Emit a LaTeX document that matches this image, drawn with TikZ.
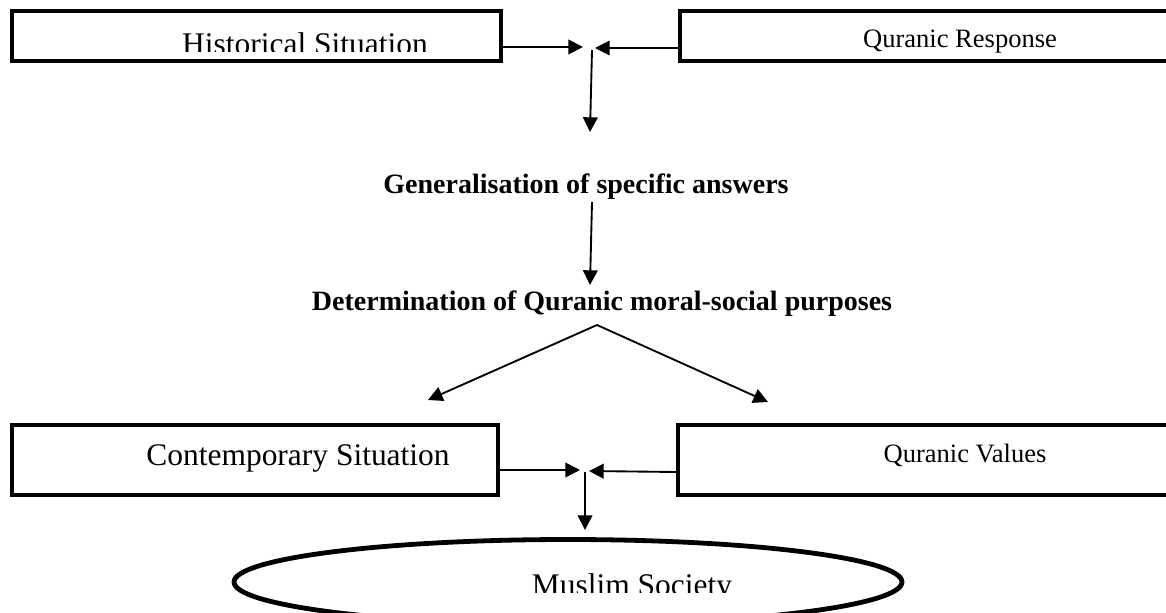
\documentclass[tikz,border=0pt]{standalone}
\usepackage{fontspec}
\setmainfont{Liberation Serif}
\usetikzlibrary{arrows.meta,shapes.geometric}
\begin{document}
\begin{tikzpicture}[x=0.75pt,y=-0.75pt,
  box/.style={draw, line width=3pt, inner sep=0pt},
  oval/.style={draw, ellipse, line width=3.6pt, inner sep=0pt},
  arr/.style={-{Triangle[length=11pt,width=11pt]}, line width=1.4pt},
  big/.style={font=\fontsize{23.6pt}{28pt}\selectfont, inner sep=0pt, anchor=base},
  mid/.style={font=\fontsize{19.9pt}{24pt}\selectfont, inner sep=0pt, anchor=base},
  heading/.style={font=\fontsize{21pt}{25pt}\selectfont\bfseries, inner sep=0pt, anchor=base}]
\useasboundingbox (0,0) rectangle (1166,613);

% boxes
\node[box, minimum width=366.75pt, minimum height=37.5pt] (hist) at (256.5,36) {};
\node[box, minimum width=375pt, minimum height=37.5pt] (resp) at (930,36) {};
\node[box, minimum width=364.5pt, minimum height=52.5pt] (cont) at (255,460) {};
\node[box, minimum width=376.5pt, minimum height=52.5pt] (vals) at (929,460) {};
\node[oval, minimum width=501pt, minimum height=63.75pt] (soc) at (568,582) {};

% texts
\begin{scope}
  \clip (14,13) rectangle (499,52);
  \node[big] (histtxt) at (305,55) {Historical Situation};
\end{scope}
\node[mid] (resptxt) at (960,48) {Quranic Response};
\node[heading] (gen) at (586,193) {Generalisation of specific answers};
\node[heading] (det) at (602,310) {Determination of Quranic moral-social purposes};
\node[big] (conttxt) at (298,465) {Contemporary Situation};
\node[mid] (valstxt) at (965,462) {Quranic Values};
\begin{scope}
  \clip (236,541) rectangle (902,592);
  \node[big] (soctxt) at (632,595) {Muslim Society};
\end{scope}

% junction points
\coordinate (h1) at (0,47);
\coordinate (j1a) at (583,47);
\coordinate (r1) at (0,48);
\coordinate (j1b) at (595,48);
\coordinate (d1s) at (592,50);
\coordinate (d1e) at (590,132);
\coordinate (d2s) at (592,202);
\coordinate (d2e) at (590,285);
\coordinate (apex) at (597,325);
\coordinate (lt) at (428,400);
\coordinate (rt) at (768,402);
\coordinate (c1) at (0,470);
\coordinate (j2a) at (580,470);
\coordinate (v1) at (0,472);
\coordinate (j2b) at (589,471);
\coordinate (d3s) at (585,472);
\coordinate (d3e) at (585,530);

% connectors
\draw[arr] (hist.east |- h1) -- (j1a);
\draw[arr] (resp.west |- r1) -- (j1b);
\draw[arr] (d1s) -- (d1e);
\draw[arr] (d2s) -- (d2e);
\draw[arr] (apex) -- (lt);
\draw[arr] (apex) -- (rt);
\draw[arr] (cont.east |- c1) -- (j2a);
\draw[arr] (vals.west |- v1) -- (j2b);
\draw[arr] (d3s) -- (d3e);
\end{tikzpicture}
\end{document}
